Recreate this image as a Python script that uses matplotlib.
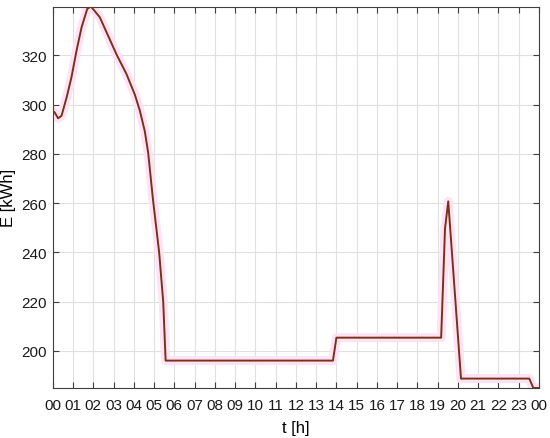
import matplotlib
matplotlib.use("Agg")
import matplotlib.pyplot as plt

plt.rcParams['font.family'] = ['Liberation Sans', 'DejaVu Sans']

# time (hours) and energy (kWh)
t_h = [0.0, 0.1, 0.26, 0.43, 0.68, 0.92, 1.17, 1.42, 1.7, 1.85, 1.91, 2.32, 3.14,
       3.64, 4.05, 4.3, 4.54, 4.71, 4.94, 5.25, 5.45, 5.57, 13.83, 14.0, 19.17,
       19.36, 19.52, 20.15, 23.52, 23.72, 24.0]
E_kwh = [297.5, 296.7, 294.4, 295.4, 302.8, 311.0, 321.8, 331.3, 338.8, 339.6, 339.5,
         335.4, 320.4, 312.3, 304.0, 297.4, 289.2, 280.3, 261.8, 240.0, 220.0, 196.1,
         196.1, 205.4, 205.4, 249.6, 260.7, 188.8, 188.8, 185.0, 185.0]

xtick_pos = list(range(0, 25))
xtick_labels = [f"{h % 24:02d}" for h in xtick_pos]
ytick_pos = [200, 220, 240, 260, 280, 300, 320]

fig = plt.figure(figsize=(5.5, 4.39), dpi=100)
ax = fig.add_axes([0.096, 0.114, 0.884, 0.868])

ax.plot(t_h, E_kwh, color='#ffe2f5', lw=6.5, solid_joinstyle='round', zorder=2)
ax.plot(t_h, E_kwh, color='#7a3216', lw=1.4, zorder=3)

ax.set_xlim(0, 24)
ax.set_ylim(185, 339.6)
ax.set_xticks(xtick_pos)
ax.set_xticklabels(xtick_labels)
ax.set_yticks(ytick_pos)
ax.grid(True, color='#e0e0e0', lw=0.8)
ax.set_axisbelow(True)
ax.tick_params(direction='in', top=True, right=True, length=4, width=0.8,
               colors='#404040', labelsize=11, labelcolor='#1a1a1a')
ax.tick_params(axis='x', pad=7)
ax.tick_params(axis='y', pad=4)
for s in ax.spines.values():
    s.set_color('#404040')
    s.set_linewidth(0.8)
ax.set_xlabel('t [h]', fontsize=12, labelpad=6)
ax.set_ylabel('E [kWh]', fontsize=12, labelpad=4)

fig.savefig('out.png', dpi=100)
